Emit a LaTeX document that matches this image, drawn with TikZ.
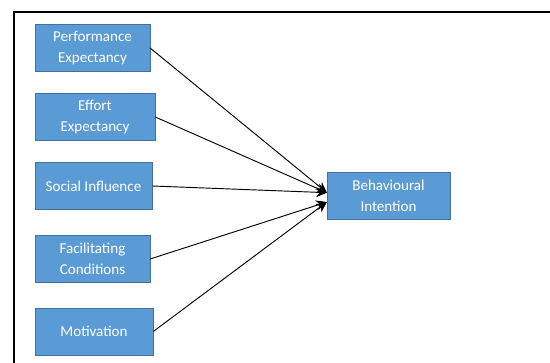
\documentclass[tikz,border=0pt]{standalone}
\usepackage{fontspec}
\setmainfont{Carlito}
\usetikzlibrary{arrows.meta}
\definecolor{boxblue}{HTML}{5B9BD5}
\definecolor{boxedge}{HTML}{41719C}

\begin{document}
\begin{tikzpicture}[x=0.75pt,y=-0.75pt,
    factor/.style={draw=boxedge,fill=boxblue,text=white,align=center,minimum height=35.5pt,inner sep=0pt,font=\fontsize{11.3}{15.5}\selectfont},
    conn/.style={line width=0.7pt,-{Stealth[length=8pt,width=7.5pt]}}]
    \useasboundingbox (0,0) rectangle (550,363);
    % Frame
    \draw[line width=1.5pt] (14,363) -- (14,12) -- (550,12);

    % Draw nodes
    \foreach \nm/\cx/\cy/\w/\txt in {PE/92.5/48/86/{Performance\\Expectancy},
        EE/95/117/90/{Effort\\Expectancy},
        SI/93.5/186/88/{Social Influence},
        FC/92.5/259/86/{Facilitating\\Conditions},
        MO/94/331.5/88.5/{Motivation}}
        \node[factor,minimum width=\w pt] (\nm) at (\cx,\cy) {\txt};
    \node[factor,minimum width=92pt] (BI) at (388.5,196) {Behavioural\\Intention};

    % Draw edges
    \coordinate (BIup) at ([yshift=2.5pt]BI.west);
    \coordinate (BIdn) at ([yshift=-4.5pt]BI.west);
    \foreach \s in {PE,EE,SI} \draw[conn] (\s.east) -- (BIup);
    \foreach \s in {FC,MO} \draw[conn] (\s.east) -- (BIdn);
\end{tikzpicture}
\end{document}
